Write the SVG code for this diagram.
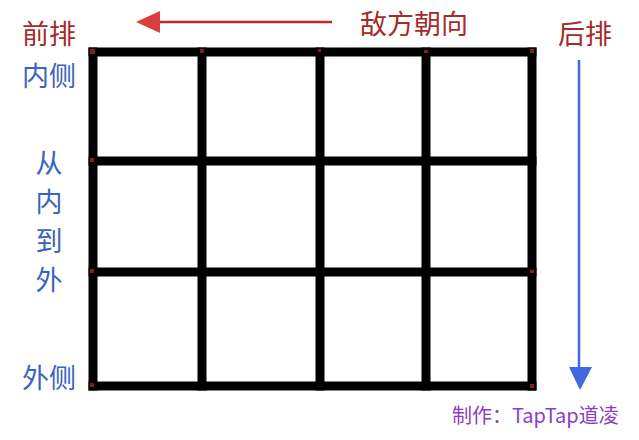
<svg xmlns="http://www.w3.org/2000/svg" width="639" height="440" viewBox="0 0 639 440">
<defs>
<style>
.cjk{font-family:"Noto Sans CJK SC","Noto Sans CJK JP",sans-serif}
.red{fill:#a52a2a;font-size:27px}
.blue{fill:#3a62c2;font-size:27px}
.grid{stroke:#000;stroke-width:9;fill:none;stroke-linecap:square}
.dot{fill:#8a1c12}
</style>
</defs>
<rect width="639" height="440" fill="#fff"/>
<g id="grid">
<line class="grid" x1="93" y1="52" x2="532" y2="52"/>
<line class="grid" x1="93" y1="161" x2="532" y2="161"/>
<line class="grid" x1="93" y1="272" x2="532" y2="272"/>
<line class="grid" x1="93" y1="386" x2="532" y2="386"/>
<line class="grid" x1="93" y1="52" x2="93" y2="386"/>
<line class="grid" x1="202" y1="52" x2="202" y2="386"/>
<line class="grid" x1="320" y1="52" x2="320" y2="386"/>
<line class="grid" x1="426" y1="52" x2="426" y2="386"/>
<line class="grid" x1="532" y1="52" x2="532" y2="386"/>
<rect class="dot" x="90" y="49" width="5" height="5"/>
<rect class="dot" x="200" y="49" width="4" height="4"/>
<rect class="dot" x="318" y="49" width="3" height="3"/>
<rect class="dot" x="424" y="50" width="4" height="3"/>
<rect class="dot" x="530" y="49" width="4" height="4"/>
<rect class="dot" x="90" y="158" width="4" height="4"/>
<rect class="dot" x="90" y="269" width="4" height="4"/>
<rect class="dot" x="90" y="383" width="4" height="4"/>
<rect class="dot" x="530" y="270" width="4" height="3"/>
<rect class="dot" x="530" y="384" width="4" height="4"/>
</g>
<g id="connectors">
<line x1="159" y1="22" x2="332" y2="22" stroke="#c0262b" stroke-width="2.5"/>
<polygon points="136,22 160,11 160,33" fill="#d9403d"/>
<line x1="579" y1="60" x2="579" y2="370" stroke="#4169dd" stroke-width="2.5"/>
<polygon points="569,367 592,367 580,390" fill="#4169dd"/>
</g>
<g id="label-front"><text class="cjk red" x="22" y="44">前排</text></g>
<g id="label-direction"><text class="cjk red" x="360" y="34">敌方朝向</text></g>
<g id="label-back"><text class="cjk red" x="558" y="44">后排</text></g>
<g id="label-inner"><text class="cjk blue" x="22" y="86">内侧</text></g>
<g id="label-inout" class="cjk blue" text-anchor="middle">
<text x="49" y="173">从</text>
<text x="49" y="212">内</text>
<text x="49" y="251">到</text>
<text x="49" y="290">外</text>
</g>
<g id="label-outer"><text class="cjk blue" x="22" y="388">外侧</text></g>
<g id="credit"><text class="cjk" x="452" y="423" font-size="20" fill="#8e3cc8">制作：TapTap道凌</text></g>
</svg>
